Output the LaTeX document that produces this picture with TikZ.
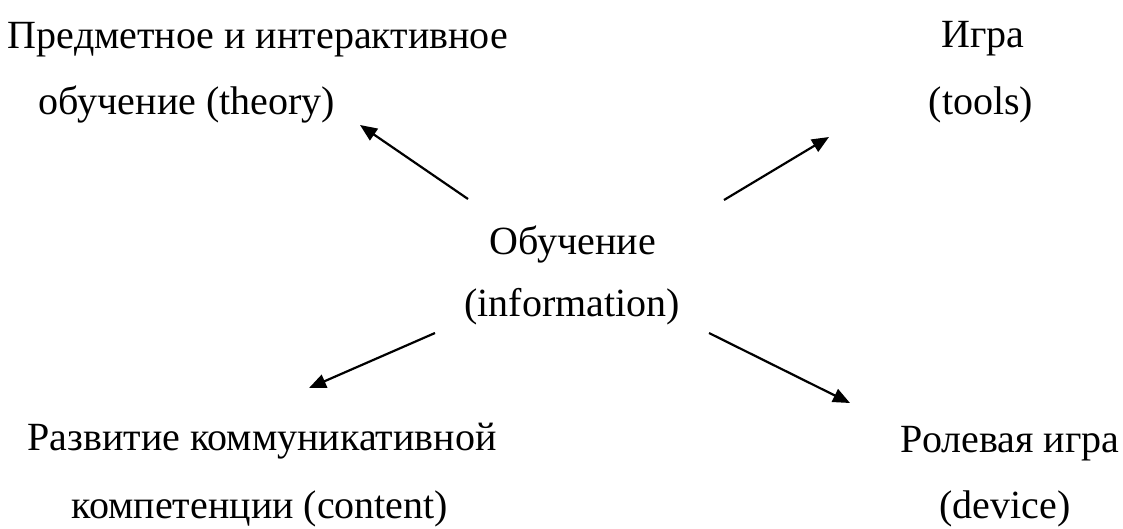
\documentclass[tikz,border=0pt]{standalone}
\usepackage{fontspec}
\setmainfont{Liberation Serif}
\usetikzlibrary{arrows.meta}
\begin{document}
\begin{tikzpicture}[x=1pt,y=-1pt,
  lbl/.style={anchor=base,inner sep=0pt,font=\fontsize{40}{48}\selectfont},
  arr/.style={line width=2.2pt,-{Triangle[length=17pt,width=14pt]}}]
\useasboundingbox (0,0) rectangle (1123,528);
% top left
\node[lbl] (tl1) at (258,48) {Предметное и интерактивное};
\node[lbl] (tl2) at (187,114) {обучение (theory)};
% top right
\node[lbl] (tr1) at (983,47) {Игра};
\node[lbl] (tr2) at (981,114) {(tools)};
% center
\node[lbl] (c1) at (573,254) {Обучение};
\node[lbl] (c2) at (572,316) {(information)};
% bottom left
\node[lbl] (bl1) at (262,450) {Развитие коммуникативной};
\node[lbl] (bl2) at (260,518) {компетенции (content)};
% bottom right
\node[lbl] (br1) at (1010,452) {Ролевая игра};
\node[lbl] (br2) at (1005,518) {(device)};
% arrow ends
\coordinate (a1s) at (468,199); \coordinate (a1e) at (360,125);
\coordinate (a2s) at (724,200); \coordinate (a2e) at (829,137);
\coordinate (a3s) at (435,333); \coordinate (a3e) at (309,388);
\coordinate (a4s) at (709,333); \coordinate (a4e) at (850,403);
\draw[arr] (a1s) -- (a1e);
\draw[arr] (a2s) -- (a2e);
\draw[arr] (a3s) -- (a3e);
\draw[arr] (a4s) -- (a4e);
\end{tikzpicture}
\end{document}
